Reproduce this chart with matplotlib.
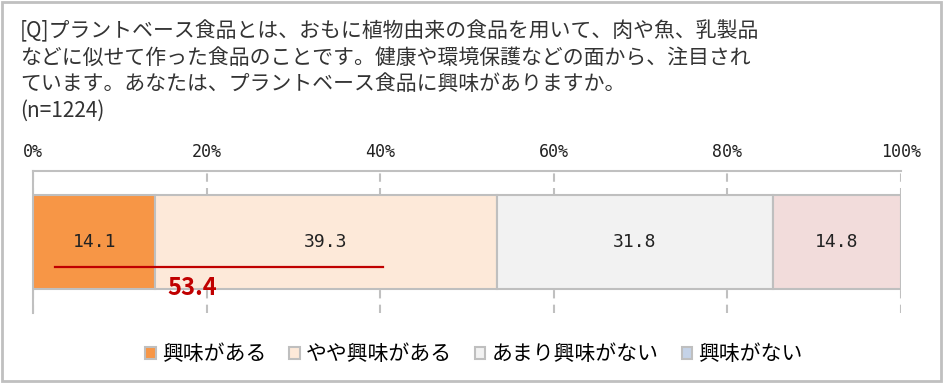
import matplotlib.pyplot as plt
from matplotlib.patches import Patch, Rectangle

plt.rcParams['font.family'] = ['Noto Sans CJK JP', 'DejaVu Sans']

title_lines = [
    "[Q]プラントベース食品とは、おもに植物由来の食品を用いて、肉や魚、乳製品",
    "などに似せて作った食品のことです。健康や環境保護などの面から、注目され",
    "ています。あなたは、プラントベース食品に興味がありますか。",
    "(n=1224)",
]

categories = ["興味がある", "やや興味がある", "あまり興味がない", "興味がない"]
values = [14.1, 39.3, 31.8, 14.8]
bar_colors = ["#f79646", "#fde9d9", "#f2f2f2", "#f2dcdb"]
legend_colors = ["#f79646", "#fde9d9", "#f2f2f2", "#c5d3e8"]
ticks = [0, 20, 40, 60, 80, 100]
tick_labels = ["0%", "20%", "40%", "60%", "80%", "100%"]

# bracket for the "interested" total
sum_line_x = [2.5, 40.3]
sum_line_y = -0.27
sum_total = round(values[0] + values[1], 1)

W, H = 944, 383
fig = plt.figure(figsize=(W / 100, H / 100), dpi=100)

# outer frame
fig.patches.append(
    Rectangle((2 / W, 2 / H), 939 / W, 379 / H,
              transform=fig.transFigure, fill=False,
              edgecolor="#c0c0c0", linewidth=2)
)

for i, line in enumerate(title_lines):
    fig.text(20 / W, 1 - (31 + i * 26.5) / H, line,
             fontsize=15, va="center", ha="left", color="#333333")

ax = fig.add_axes([33 / W, 70 / H, 868 / W, 142 / H])

left = 0
for v, c in zip(values, bar_colors):
    ax.barh(0, v, left=left, height=1.0, color=c,
            edgecolor="#bfbfbf", linewidth=1.5, zorder=3)
    ax.text(left + v / 2, 0, f"{v:.1f}", ha="center", va="center",
            fontsize=13, family="DejaVu Sans Mono", color="#222222", zorder=4)
    left += v

ax.plot(sum_line_x, [sum_line_y, sum_line_y], color="#c00000",
        linewidth=1.6, zorder=5)
ax.text(18.3, -0.49, f"{sum_total}", ha="center", va="center",
        fontsize=17, fontweight="bold", color="#c00000", zorder=5)

ax.set_xlim(0, 100)
ax.set_ylim(-0.755, 0.755)
ax.set_yticks([])
ax.set_xticks(ticks)
ax.set_xticklabels(tick_labels, family="DejaVu Sans Mono", fontsize=12,
                   color="#222222")
ax.xaxis.tick_top()
ax.tick_params(axis="x", length=0, pad=7)
ax.grid(axis="x", color="#c0c0c0", linestyle=(0, (4, 3)), linewidth=1.5,
        zorder=0)

for s in ["right", "bottom"]:
    ax.spines[s].set_visible(False)
for s in ["top", "left"]:
    ax.spines[s].set_color("#c0c0c0")
    ax.spines[s].set_linewidth(1.5)

handles = [Patch(facecolor=c, edgecolor="#bfbfbf", linewidth=1.5)
           for c in legend_colors]
fig.legend(handles, categories, loc="center", ncol=4,
           bbox_to_anchor=(474 / W, 1 - 354 / H), frameon=False,
           fontsize=15, handlelength=0.5, handleheight=0.5,
           handletextpad=0.3, columnspacing=1.1)

fig.savefig("out.png", dpi=100)
